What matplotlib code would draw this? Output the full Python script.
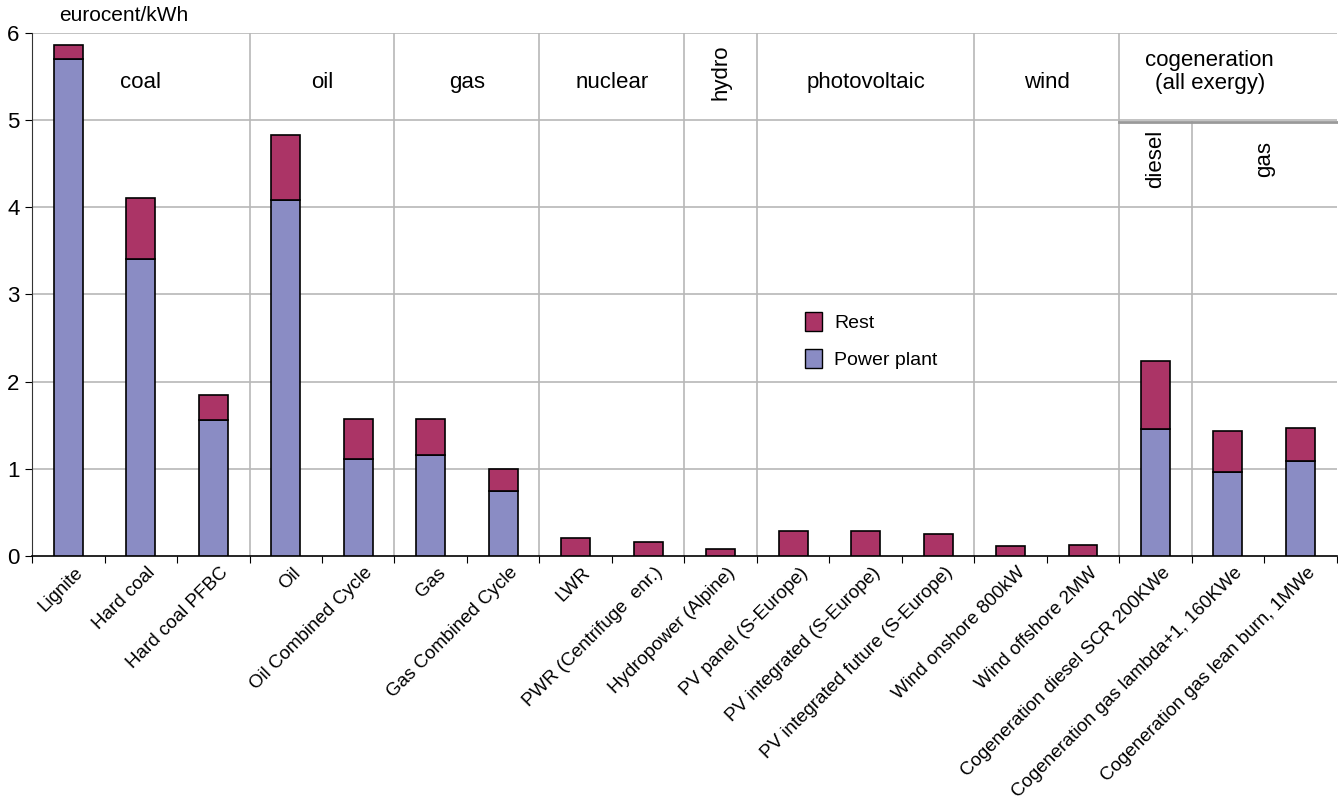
import numpy as np
import matplotlib.pyplot as plt
import matplotlib.transforms as mtransforms
from matplotlib.patches import Patch

plt.rcParams['font.family'] = ['Liberation Sans', 'DejaVu Sans']

# Data (eurocent/kWh)
categories = ['Lignite', 'Hard coal', 'Hard coal PFBC', 'Oil', 'Oil Combined Cycle',
              'Gas', 'Gas Combined Cycle', 'LWR', 'PWR (Centrifuge  enr.)',
              'Hydropower (Alpine)', 'PV panel (S-Europe)', 'PV integrated (S-Europe)',
              'PV integrated future (S-Europe)', 'Wind onshore 800kW', 'Wind offshore 2MW',
              'Cogeneration diesel SCR 200KWe', 'Cogeneration gas lambda+1, 160KWe',
              'Cogeneration gas lean burn, 1MWe']
power_plant = [5.70, 3.41, 1.56, 4.08, 1.11, 1.16, 0.75, 0, 0, 0, 0, 0, 0, 0, 0, 1.46, 0.96, 1.09]
total = [5.86, 4.11, 1.85, 4.83, 1.57, 1.57, 1.00, 0.21, 0.16, 0.08, 0.29, 0.29, 0.25,
         0.11, 0.13, 2.24, 1.43, 1.47]
rest = [t - p for t, p in zip(total, power_plant)]

groups = ['coal', 'oil', 'gas', 'nuclear', 'hydro', 'photovoltaic', 'wind',
          'cogeneration\n(all exergy)']
group_bounds = [0, 3, 5, 7, 9, 10, 13, 15, 18]
cogen_sub = ['diesel', 'gas']
cogen_bounds = [15, 16, 18]

c_pp = '#8A8CC4'
c_rest = '#AB3466'
grid_c = '#B8B8B8'

fig = plt.figure(figsize=(13.38, 8.01), dpi=100)
ax = fig.add_axes([0.024, 0.306, 0.975, 0.653])

x = np.arange(len(categories)) + 0.5
ax.bar(x, power_plant, width=0.4, color=c_pp, edgecolor='black', linewidth=1.2, zorder=3)
ax.bar(x, rest, bottom=power_plant, width=0.4, color=c_rest, edgecolor='black',
       linewidth=1.2, zorder=3)

ax.set_xlim(0, 18)
ax.set_ylim(0, 6)

# horizontal grid
for yv in range(1, 7):
    ax.axhline(yv, color=grid_c, lw=1.2, zorder=1)

# group separators and labels
for b in group_bounds[1:-1]:
    ax.axvline(b, color=grid_c, lw=1.2, zorder=1)
for i, g in enumerate(groups):
    xc = (group_bounds[i] + group_bounds[i + 1]) / 2
    if g == 'hydro':
        ax.text(xc, 5.55, g, rotation=90, ha='center', va='center', fontsize=16)
    elif g.startswith('cogeneration'):
        ax.text(xc - 0.25, 5.55, g, ha='center', va='center', fontsize=16, linespacing=1.1)
    else:
        ax.text(xc, 5.43, g, ha='center', va='center', fontsize=16)

# cogeneration sub-division
ax.plot([15, 18], [4.98, 4.98], color='#999999', lw=2, zorder=2, clip_on=False)
ax.plot([16, 16], [0, 4.98], color=grid_c, lw=1.2, zorder=1)
for i, g in enumerate(cogen_sub):
    xc = (cogen_bounds[i] + cogen_bounds[i + 1]) / 2
    ax.text(xc, 4.55, g, rotation=90, ha='center', va='center', fontsize=16)

# axes styling
for s in ['top', 'right']:
    ax.spines[s].set_visible(False)
ax.spines['left'].set_color('#333333')
ax.spines['bottom'].set_color('black')
ax.spines['bottom'].set_linewidth(1.2)

ax.set_yticks(range(0, 7))
ax.tick_params(axis='y', labelsize=16, length=5, direction='out', pad=4)
ax.set_xticks(range(0, 19))
ax.set_xticklabels([])
ax.tick_params(axis='x', which='major', length=5, direction='out')
ax.set_xticks(x, minor=True)
ax.set_xticklabels(categories, minor=True, rotation=45, ha='right',
                   rotation_mode='anchor', fontsize=13.5)
ax.tick_params(axis='x', which='minor', length=0, pad=6)
shift = mtransforms.ScaledTranslation(6 / 100, 0, fig.dpi_scale_trans)
for lbl in ax.get_xticklabels(minor=True):
    lbl.set_transform(lbl.get_transform() + shift)

fig.text(0.044, 0.969, 'eurocent/kWh', fontsize=15, ha='left', va='bottom')

handles = [Patch(facecolor=c_rest, edgecolor='black', label='Rest'),
           Patch(facecolor=c_pp, edgecolor='black', label='Power plant')]
ax.legend(handles=handles, loc='upper left', bbox_to_anchor=(0.579, 0.5), frameon=False,
          fontsize=14, handlelength=0.9, handleheight=1.1, labelspacing=0.9,
          handletextpad=0.6)

fig.savefig('out.png', dpi=100)
